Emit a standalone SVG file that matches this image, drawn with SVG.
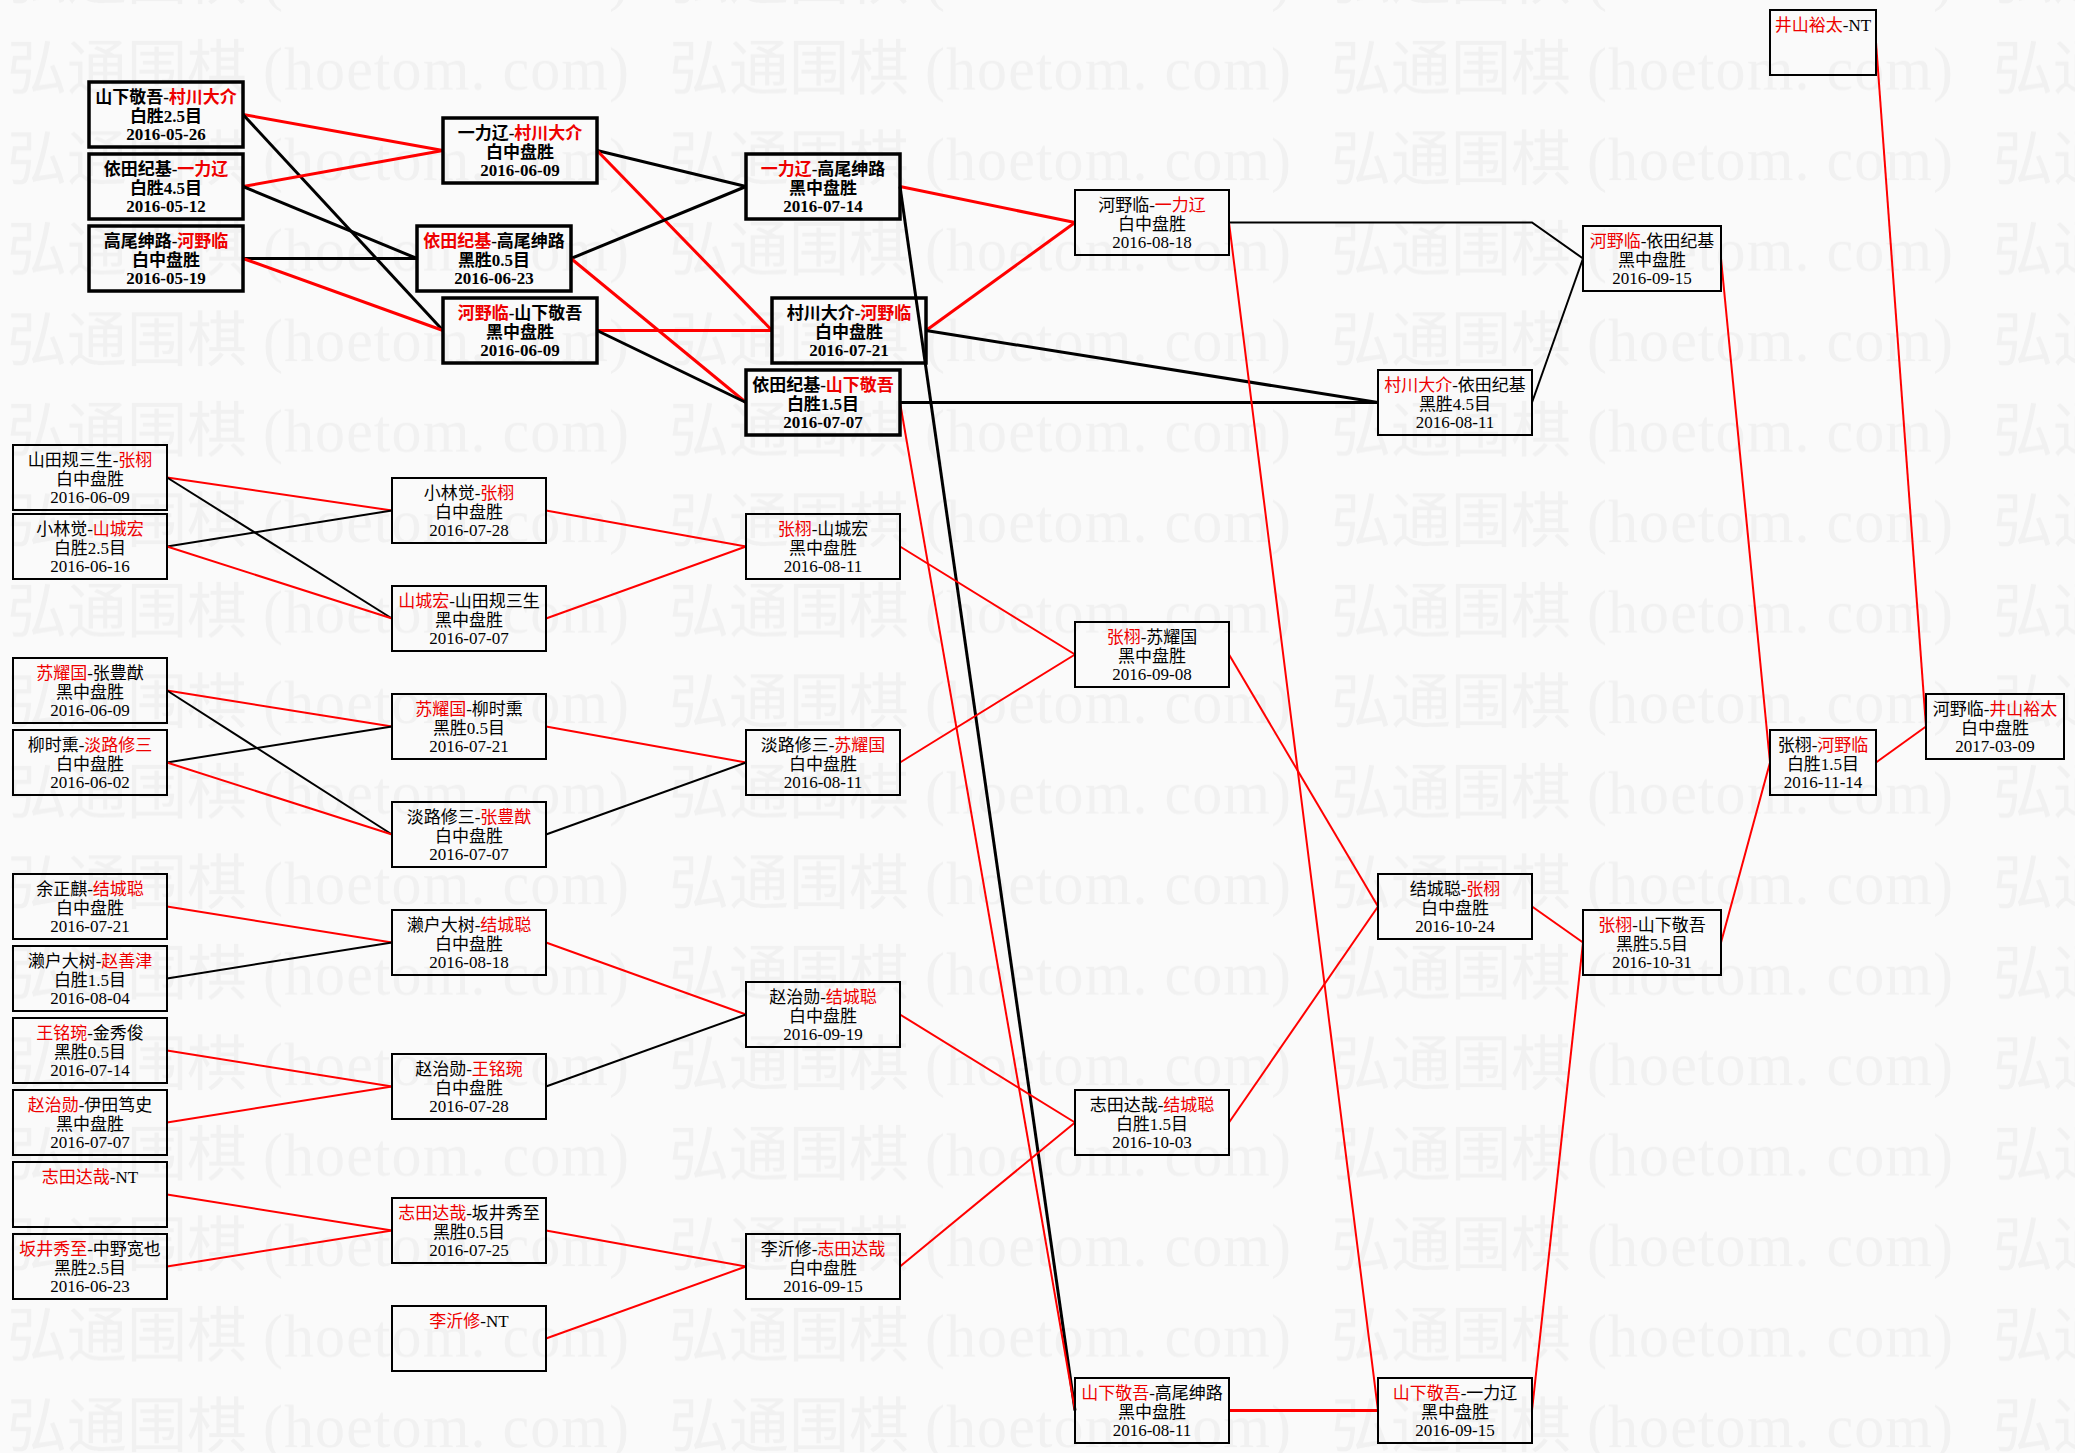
<svg xmlns="http://www.w3.org/2000/svg" width="2075" height="1453" viewBox="0 0 2075 1453">
<style>
.n rect{fill:none;stroke:#000;stroke-width:2}
.b rect{stroke-width:3.5}
.n text{font-family:"Liberation Serif","Noto Sans CJK SC",serif;font-size:17px;text-anchor:middle;fill:#000}
.b text{font-weight:bold}
.n .r{fill:#ee0000}
.wm{font-family:"Liberation Serif","Noto Sans CJK SC",serif;font-size:60px;fill:#f1f1f1}
#edges line,#edges polyline{fill:none;stroke-width:2}
#edges .k{stroke:#000}
#edges .d{stroke:#f00}
#edges .t{stroke-width:3}
</style>
<defs>
<pattern id="wmp" patternUnits="userSpaceOnUse" x="7" y="15" width="662" height="90.5">
<text class="wm" x="0" y="75">弘通围棋</text>
<text class="wm" x="256" y="75" textLength="366" lengthAdjust="spacing">(hoetom. com)</text>
</pattern>
</defs>
<rect x="0" y="0" width="2075" height="1453" fill="#fafafa"/>
<rect x="0" y="0" width="2075" height="1453" fill="url(#wmp)"/>

<g id="edges">
<line class="d t" x1="243" y1="114.5" x2="443" y2="150.5"/>
<line class="k t" x1="243" y1="114.5" x2="443" y2="330.5"/>
<line class="d t" x1="243" y1="186.5" x2="443" y2="150.5"/>
<line class="k t" x1="243" y1="186.5" x2="417" y2="258.5"/>
<line class="k t" x1="243" y1="258.5" x2="417" y2="258.5"/>
<line class="d t" x1="243" y1="258.5" x2="443" y2="330.5"/>
<line class="k t" x1="597" y1="150.5" x2="746" y2="186.5"/>
<line class="d t" x1="597" y1="150.5" x2="772" y2="330.5"/>
<line class="k t" x1="571" y1="258.5" x2="746" y2="186.5"/>
<line class="d t" x1="571" y1="258.5" x2="746" y2="402.5"/>
<line class="d t" x1="597" y1="330.5" x2="772" y2="330.5"/>
<line class="k t" x1="597" y1="330.5" x2="746" y2="402.5"/>
<line class="d t" x1="900" y1="186.5" x2="1075" y2="222.5"/>
<line class="k t" x1="900" y1="186.5" x2="1075" y2="1410.5"/>
<line class="d t" x1="926" y1="330.5" x2="1075" y2="222.5"/>
<line class="k t" x1="926" y1="330.5" x2="1378" y2="402.5"/>
<line class="k t" x1="900" y1="402.5" x2="1378" y2="402.5"/>
<line class="d" x1="900" y1="402.5" x2="1075" y2="1410.5"/>
<polyline class="k" points="1229,222.5 1532,222.5 1583,258.5"/>
<line class="d" x1="1229" y1="222.5" x2="1378" y2="1410.5"/>
<line class="k" x1="1532" y1="402.5" x2="1583" y2="258.5"/>
<line class="d" x1="1721" y1="258.5" x2="1770" y2="762.5"/>
<line class="d" x1="1876" y1="42.5" x2="1926" y2="726.5"/>
<line class="d" x1="1876" y1="762.5" x2="1926" y2="726.5"/>
<line class="d" x1="167" y1="477.5" x2="392" y2="510.5"/>
<line class="k" x1="167" y1="477.5" x2="392" y2="618.5"/>
<line class="k" x1="167" y1="546.5" x2="392" y2="510.5"/>
<line class="d" x1="167" y1="546.5" x2="392" y2="618.5"/>
<line class="d" x1="546" y1="510.5" x2="746" y2="546.5"/>
<line class="d" x1="546" y1="618.5" x2="746" y2="546.5"/>
<line class="d" x1="900" y1="546.5" x2="1075" y2="654.5"/>
<line class="d" x1="167" y1="690.5" x2="392" y2="726.5"/>
<line class="k" x1="167" y1="690.5" x2="392" y2="834.5"/>
<line class="k" x1="167" y1="762.5" x2="392" y2="726.5"/>
<line class="d" x1="167" y1="762.5" x2="392" y2="834.5"/>
<line class="d" x1="546" y1="726.5" x2="746" y2="762.5"/>
<line class="k" x1="546" y1="834.5" x2="746" y2="762.5"/>
<line class="d" x1="900" y1="762.5" x2="1075" y2="654.5"/>
<line class="d" x1="1229" y1="654.5" x2="1378" y2="906.5"/>
<line class="d" x1="167" y1="906.5" x2="392" y2="942.5"/>
<line class="k" x1="167" y1="978.5" x2="392" y2="942.5"/>
<line class="d" x1="546" y1="942.5" x2="746" y2="1014.5"/>
<line class="d" x1="167" y1="1050.5" x2="392" y2="1086.5"/>
<line class="d" x1="167" y1="1122.5" x2="392" y2="1086.5"/>
<line class="k" x1="546" y1="1086.5" x2="746" y2="1014.5"/>
<line class="d" x1="900" y1="1014.5" x2="1075" y2="1122.5"/>
<line class="d" x1="167" y1="1194.5" x2="392" y2="1230.5"/>
<line class="d" x1="167" y1="1266.5" x2="392" y2="1230.5"/>
<line class="d" x1="546" y1="1230.5" x2="746" y2="1266.5"/>
<line class="d" x1="546" y1="1338.5" x2="746" y2="1266.5"/>
<line class="d" x1="900" y1="1266.5" x2="1075" y2="1122.5"/>
<line class="d" x1="1229" y1="1122.5" x2="1378" y2="906.5"/>
<line class="d" x1="1532" y1="906.5" x2="1583" y2="942.5"/>
<line class="d t" x1="1229" y1="1410.5" x2="1378" y2="1410.5"/>
<line class="d" x1="1532" y1="1410.5" x2="1583" y2="942.5"/>
<line class="d" x1="1721" y1="942.5" x2="1770" y2="762.5"/>
</g>

<g id="A1" class="n b"><rect x="89" y="82" width="154" height="65"/>
<text x="166" y="103">山下敬吾-<tspan class="r">村川大介</tspan></text><text x="166" y="122">白胜2.5目</text><text x="166" y="140">2016-05-26</text></g>
<g id="A2" class="n b"><rect x="89" y="154" width="154" height="65"/>
<text x="166" y="175">依田纪基-<tspan class="r">一力辽</tspan></text><text x="166" y="194">白胜4.5目</text><text x="166" y="212">2016-05-12</text></g>
<g id="A3" class="n b"><rect x="89" y="226" width="154" height="65"/>
<text x="166" y="247">高尾绅路-<tspan class="r">河野临</tspan></text><text x="166" y="266">白中盘胜</text><text x="166" y="284">2016-05-19</text></g>

<g id="B1" class="n b"><rect x="443" y="118" width="154" height="65"/>
<text x="520" y="139">一力辽-<tspan class="r">村川大介</tspan></text><text x="520" y="158">白中盘胜</text><text x="520" y="176">2016-06-09</text></g>
<g id="B2" class="n b"><rect x="417" y="226" width="154" height="65"/>
<text x="494" y="247"><tspan class="r">依田纪基</tspan>-高尾绅路</text><text x="494" y="266">黑胜0.5目</text><text x="494" y="284">2016-06-23</text></g>
<g id="B3" class="n b"><rect x="443" y="298" width="154" height="65"/>
<text x="520" y="319"><tspan class="r">河野临</tspan>-山下敬吾</text><text x="520" y="338">黑中盘胜</text><text x="520" y="356">2016-06-09</text></g>

<g id="C1" class="n b"><rect x="746" y="154" width="154" height="65"/>
<text x="823" y="175"><tspan class="r">一力辽</tspan>-高尾绅路</text><text x="823" y="194">黑中盘胜</text><text x="823" y="212">2016-07-14</text></g>
<g id="C2" class="n b"><rect x="772" y="298" width="154" height="65"/>
<text x="849" y="319">村川大介-<tspan class="r">河野临</tspan></text><text x="849" y="338">白中盘胜</text><text x="849" y="356">2016-07-21</text></g>
<g id="C3" class="n b"><rect x="746" y="370" width="154" height="65"/>
<text x="823" y="391">依田纪基-<tspan class="r">山下敬吾</tspan></text><text x="823" y="410">白胜1.5目</text><text x="823" y="428">2016-07-07</text></g>

<g id="D1" class="n"><rect x="1075" y="190" width="154" height="65"/>
<text x="1152" y="211">河野临-<tspan class="r">一力辽</tspan></text><text x="1152" y="230">白中盘胜</text><text x="1152" y="248">2016-08-18</text></g>
<g id="E2" class="n"><rect x="1378" y="370" width="154" height="65"/>
<text x="1455" y="391"><tspan class="r">村川大介</tspan>-依田纪基</text><text x="1455" y="410">黑胜4.5目</text><text x="1455" y="428">2016-08-11</text></g>
<g id="E1" class="n"><rect x="1583" y="226" width="138" height="65"/>
<text x="1652" y="247"><tspan class="r">河野临</tspan>-依田纪基</text><text x="1652" y="266">黑中盘胜</text><text x="1652" y="284">2016-09-15</text></g>
<g id="F0" class="n"><rect x="1770" y="10" width="106" height="65"/>
<text x="1823" y="31"><tspan class="r">井山裕太</tspan>-NT</text></g>
<g id="G" class="n"><rect x="1770" y="730" width="106" height="65"/>
<text x="1823" y="751">张栩-<tspan class="r">河野临</tspan></text><text x="1823" y="770">白胜1.5目</text><text x="1823" y="788">2016-11-14</text></g>
<g id="H" class="n"><rect x="1926" y="694" width="138" height="65"/>
<text x="1995" y="715">河野临-<tspan class="r">井山裕太</tspan></text><text x="1995" y="734">白中盘胜</text><text x="1995" y="752">2017-03-09</text></g>

<g id="L1" class="n"><rect x="13" y="445" width="154" height="65"/>
<text x="90" y="466">山田规三生-<tspan class="r">张栩</tspan></text><text x="90" y="485">白中盘胜</text><text x="90" y="503">2016-06-09</text></g>
<g id="L2" class="n"><rect x="13" y="514" width="154" height="65"/>
<text x="90" y="535">小林觉-<tspan class="r">山城宏</tspan></text><text x="90" y="554">白胜2.5目</text><text x="90" y="572">2016-06-16</text></g>
<g id="M1" class="n"><rect x="392" y="478" width="154" height="65"/>
<text x="469" y="499">小林觉-<tspan class="r">张栩</tspan></text><text x="469" y="518">白中盘胜</text><text x="469" y="536">2016-07-28</text></g>
<g id="M2" class="n"><rect x="392" y="586" width="154" height="65"/>
<text x="469" y="607"><tspan class="r">山城宏</tspan>-山田规三生</text><text x="469" y="626">黑中盘胜</text><text x="469" y="644">2016-07-07</text></g>
<g id="P1" class="n"><rect x="746" y="514" width="154" height="65"/>
<text x="823" y="535"><tspan class="r">张栩</tspan>-山城宏</text><text x="823" y="554">黑中盘胜</text><text x="823" y="572">2016-08-11</text></g>

<g id="L3" class="n"><rect x="13" y="658" width="154" height="65"/>
<text x="90" y="679"><tspan class="r">苏耀国</tspan>-张豊猷</text><text x="90" y="698">黑中盘胜</text><text x="90" y="716">2016-06-09</text></g>
<g id="L4" class="n"><rect x="13" y="730" width="154" height="65"/>
<text x="90" y="751">柳时熏-<tspan class="r">淡路修三</tspan></text><text x="90" y="770">白中盘胜</text><text x="90" y="788">2016-06-02</text></g>
<g id="M3" class="n"><rect x="392" y="694" width="154" height="65"/>
<text x="469" y="715"><tspan class="r">苏耀国</tspan>-柳时熏</text><text x="469" y="734">黑胜0.5目</text><text x="469" y="752">2016-07-21</text></g>
<g id="M4" class="n"><rect x="392" y="802" width="154" height="65"/>
<text x="469" y="823">淡路修三-<tspan class="r">张豊猷</tspan></text><text x="469" y="842">白中盘胜</text><text x="469" y="860">2016-07-07</text></g>
<g id="P2" class="n"><rect x="746" y="730" width="154" height="65"/>
<text x="823" y="751">淡路修三-<tspan class="r">苏耀国</tspan></text><text x="823" y="770">白中盘胜</text><text x="823" y="788">2016-08-11</text></g>
<g id="Q1" class="n"><rect x="1075" y="622" width="154" height="65"/>
<text x="1152" y="643"><tspan class="r">张栩</tspan>-苏耀国</text><text x="1152" y="662">黑中盘胜</text><text x="1152" y="680">2016-09-08</text></g>

<g id="L5" class="n"><rect x="13" y="874" width="154" height="65"/>
<text x="90" y="895">余正麒-<tspan class="r">结城聪</tspan></text><text x="90" y="914">白中盘胜</text><text x="90" y="932">2016-07-21</text></g>
<g id="L6" class="n"><rect x="13" y="946" width="154" height="65"/>
<text x="90" y="967">濑户大树-<tspan class="r">赵善津</tspan></text><text x="90" y="986">白胜1.5目</text><text x="90" y="1004">2016-08-04</text></g>
<g id="M5" class="n"><rect x="392" y="910" width="154" height="65"/>
<text x="469" y="931">濑户大树-<tspan class="r">结城聪</tspan></text><text x="469" y="950">白中盘胜</text><text x="469" y="968">2016-08-18</text></g>
<g id="L7" class="n"><rect x="13" y="1018" width="154" height="65"/>
<text x="90" y="1039"><tspan class="r">王铭琬</tspan>-金秀俊</text><text x="90" y="1058">黑胜0.5目</text><text x="90" y="1076">2016-07-14</text></g>
<g id="L8" class="n"><rect x="13" y="1090" width="154" height="65"/>
<text x="90" y="1111"><tspan class="r">赵治勋</tspan>-伊田笃史</text><text x="90" y="1130">黑中盘胜</text><text x="90" y="1148">2016-07-07</text></g>
<g id="M6" class="n"><rect x="392" y="1054" width="154" height="65"/>
<text x="469" y="1075">赵治勋-<tspan class="r">王铭琬</tspan></text><text x="469" y="1094">白中盘胜</text><text x="469" y="1112">2016-07-28</text></g>
<g id="P3" class="n"><rect x="746" y="982" width="154" height="65"/>
<text x="823" y="1003">赵治勋-<tspan class="r">结城聪</tspan></text><text x="823" y="1022">白中盘胜</text><text x="823" y="1040">2016-09-19</text></g>
<g id="L9" class="n"><rect x="13" y="1162" width="154" height="65"/>
<text x="90" y="1183"><tspan class="r">志田达哉</tspan>-NT</text></g>
<g id="L10" class="n"><rect x="13" y="1234" width="154" height="65"/>
<text x="90" y="1255"><tspan class="r">坂井秀至</tspan>-中野宽也</text><text x="90" y="1274">黑胜2.5目</text><text x="90" y="1292">2016-06-23</text></g>
<g id="M7" class="n"><rect x="392" y="1198" width="154" height="65"/>
<text x="469" y="1219"><tspan class="r">志田达哉</tspan>-坂井秀至</text><text x="469" y="1238">黑胜0.5目</text><text x="469" y="1256">2016-07-25</text></g>
<g id="M8" class="n"><rect x="392" y="1306" width="154" height="65"/>
<text x="469" y="1327"><tspan class="r">李沂修</tspan>-NT</text></g>
<g id="P4" class="n"><rect x="746" y="1234" width="154" height="65"/>
<text x="823" y="1255">李沂修-<tspan class="r">志田达哉</tspan></text><text x="823" y="1274">白中盘胜</text><text x="823" y="1292">2016-09-15</text></g>
<g id="Q2" class="n"><rect x="1075" y="1090" width="154" height="65"/>
<text x="1152" y="1111">志田达哉-<tspan class="r">结城聪</tspan></text><text x="1152" y="1130">白胜1.5目</text><text x="1152" y="1148">2016-10-03</text></g>
<g id="Q3" class="n"><rect x="1075" y="1378" width="154" height="65"/>
<text x="1152" y="1399"><tspan class="r">山下敬吾</tspan>-高尾绅路</text><text x="1152" y="1418">黑中盘胜</text><text x="1152" y="1436">2016-08-11</text></g>
<g id="R1" class="n"><rect x="1378" y="874" width="154" height="65"/>
<text x="1455" y="895">结城聪-<tspan class="r">张栩</tspan></text><text x="1455" y="914">白中盘胜</text><text x="1455" y="932">2016-10-24</text></g>
<g id="R2" class="n"><rect x="1378" y="1378" width="154" height="65"/>
<text x="1455" y="1399"><tspan class="r">山下敬吾</tspan>-一力辽</text><text x="1455" y="1418">黑中盘胜</text><text x="1455" y="1436">2016-09-15</text></g>
<g id="S1" class="n"><rect x="1583" y="910" width="138" height="65"/>
<text x="1652" y="931"><tspan class="r">张栩</tspan>-山下敬吾</text><text x="1652" y="950">黑胜5.5目</text><text x="1652" y="968">2016-10-31</text></g>
</svg>
